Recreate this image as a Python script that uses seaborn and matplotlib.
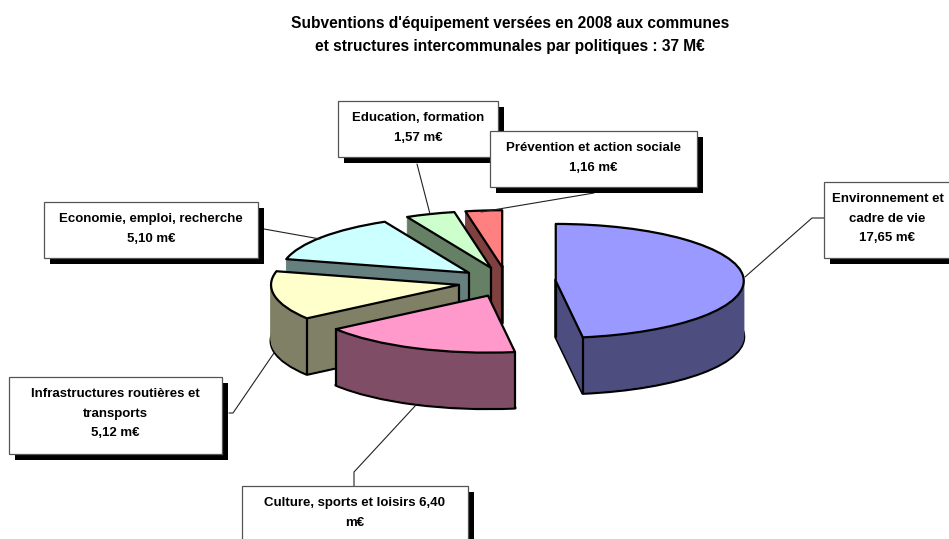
import numpy as np
import matplotlib
matplotlib.use('Agg')
import matplotlib.pyplot as plt
import seaborn as sns
from matplotlib.patches import Rectangle

# data (M euros), clockwise from 12 o'clock
postes = ['Environnement', 'Culture', 'Infrastructures', 'Economie', 'Education', 'Prevention']
valeurs = [17.65, 6.40, 5.12, 5.10, 1.57, 1.16]
couleurs_dessus = ['#9999FF', '#FF99CC', '#FFFFCC', '#CCFFFF', '#CCFFCC', '#FF8080']
couleurs_cote = ['#4D4D80', '#804D66', '#808066', '#668080', '#668066', '#804040']
rang = [5, 4, 3, 2, 1, 0]  # painting order of the side walls, back to front

titre = "Subventions d'équipement versées en 2008 aux communes\net structures intercommunales par politiques : 37 M€"
etiquettes = [
    "Environnement et\ncadre de vie\n17,65 m€",
    "Culture, sports et loisirs 6,40\nm€",
    "Infrastructures routières et\ntransports\n5,12 m€",
    "Economie, emploi, recherche\n5,10 m€",
    "Education, formation\n1,57 m€",
    "Prévention et action sociale\n1,16 m€",
]
# x0, y0, x1, y1 in pixels
boites = [(824, 182, 960, 258), (242, 486, 468, 548), (9, 377, 222, 454),
          (44, 202, 258, 258), (338, 101, 498, 157), (490, 131, 697, 187)]
traits = [[(824, 218), (812, 218), (745, 277)], [(354, 486), (354, 472), (416, 405)],
          [(229, 413), (233, 413), (274, 353)], [(264, 229), (320, 239)],
          [(417, 164), (430, 214)], [(594, 193), (481, 212)]]

sns.set_theme(style='white')
plt.rcParams['font.family'] = ['Liberation Sans', 'DejaVu Sans']

W, H = 949, 539
cx, cy, rx, ry = 507, 282, 188, 57  # pie centre and radii on screen
prof = 56  # thickness in pixels
ecart = [0.26] * len(valeurs)

fig = plt.figure(figsize=(W / 100, H / 100), dpi=100)
ax = fig.add_axes([0, 0, 1, 1])


def camembert(dy, **kw):
    w, _ = ax.pie(valeurs, explode=ecart, startangle=90, counterclock=False,
                  center=(0, -dy / ry), radius=1, **kw)
    return w


# walls: the same pie stacked from the bottom up
for k in range(prof + 1):
    dy = prof - k
    parts = camembert(dy, colors=couleurs_cote)
    for w, c, r in zip(parts, couleurs_cote, rang):
        w.set_zorder(r + k / (prof + 2))
        w.set_joinstyle('round')
        if k == 0:
            w.set_edgecolor('black')
            w.set_linewidth(2.2)
        else:
            w.set_edgecolor(c)
            w.set_linewidth(0.6)

# top faces
dessus = camembert(0, colors=couleurs_dessus, wedgeprops={'edgecolor': 'black', 'linewidth': 1.6})
for w, r in zip(dessus, rang):
    w.set_zorder(10 + r)
    w.set_joinstyle('round')
    x0, y0 = w.center
    angles = [w.theta1, w.theta2] + [a for a in (180, 360) if w.theta1 < a < w.theta2]
    xs = [x0]
    ys = [y0]
    for a in angles:
        if np.sin(np.radians(a)) < 0:
            xs.append(x0 + np.cos(np.radians(a)))
            ys.append(y0 + np.sin(np.radians(a)))
    for x, y in zip(xs, ys):
        ax.plot([x, x], [y, y - prof / ry], color='black', lw=1.6, zorder=r + 0.99,
                solid_capstyle='round')

ax.set_aspect('auto')
ax.set_xlim(-cx / rx, (W - cx) / rx)
ax.set_ylim((cy - H) / ry, cy / ry)
ax.axis('off')

# pixel axes on top for the labels
ov = fig.add_axes([0, 0, 1, 1], facecolor='none')
ov.set_xlim(0, W)
ov.set_ylim(H, 0)
ov.axis('off')
for etiq, (x0, y0, x1, y1), tr in zip(etiquettes, boites, traits):
    tr = np.array(tr)
    ov.plot(tr[:, 0], tr[:, 1], color='#222222', lw=0.8, zorder=1)
    ov.add_patch(Rectangle((x0 + 6, y0 + 6), x1 - x0, y1 - y0, fc='black', ec='none', zorder=2))
    ov.add_patch(Rectangle((x0, y0), x1 - x0, y1 - y0, fc='white', ec='#555555', lw=0.9, zorder=3))
    xt = (x0 + min(x1, W + 2)) / 2
    yt = y0 + 11
    ov.text(xt, yt, etiq, ha='center', va='top', fontsize=9.5, fontweight='bold',
            linespacing=1.85, color='black', zorder=4, clip_on=False)

ov.text(510, 35, titre, ha='center', va='center', fontsize=11.2, fontweight='bold',
        linespacing=1.72, color='black')

fig.savefig('out.png', dpi=100, facecolor='white')
